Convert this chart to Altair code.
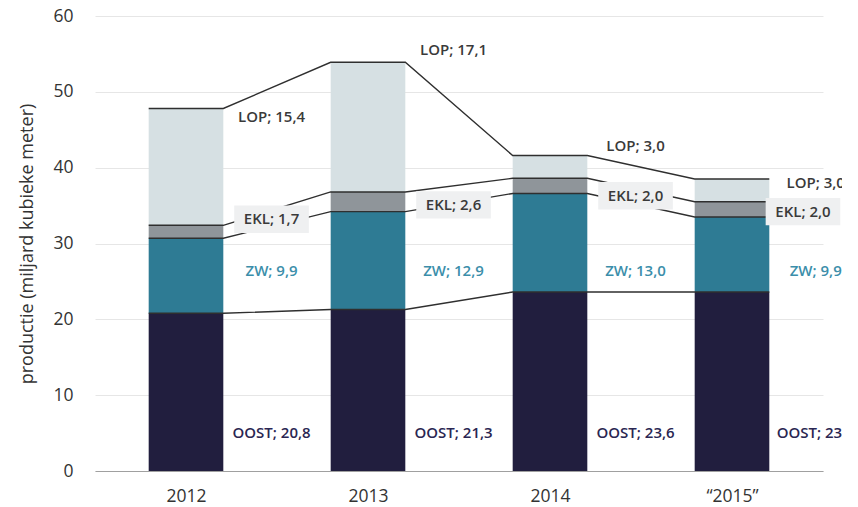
import json
import altair as alt
import pandas as pd

# ---- data ----
years = ["2012", "2013", "2014", "\u201c2015\u201d"]
series = ["OOST", "ZW", "EKL", "LOP"]
oost = [20.8, 21.3, 23.6, 23.6]
zw = [9.9, 12.9, 13.0, 9.9]
ekl = [1.7, 2.6, 2.0, 2.0]
lop = [15.4, 17.1, 3.0, 3.0]
values = {"OOST": oost, "ZW": zw, "EKL": ekl, "LOP": lop}

# label placement (layout, in data units)
label_y = {
    "OOST": [5.0, 5.0, 5.0, 5.0],
    "ZW": [26.4, 26.4, 26.4, 26.4],
    "EKL": [33.2, 35.1, 36.3, 34.2],
    "LOP": [46.7, 55.5, 42.9, 38.0],
}
label_dx = {
    "OOST": [0.47, 0.47, 0.47, 0.46],
    "ZW": [0.47, 0.47, 0.47, 0.46],
    "EKL": [0.47, 0.47, 0.47, 0.39],
    "LOP": [0.47, 0.47, 0.47, 0.46],
}

colors = ["#211e3e", "#2e7b94", "#8f959a", "#d6e0e3"]
text_colors = ["#2a2652", "#3b8eaa", "#3a3a3a", "#3a3a3a"]
HW = 0.205  # half bar width in band units

bars, lines, labels = [], [], []
for i, yr in enumerate(years):
    cum = 0.0
    for j, s in enumerate(series):
        v = values[s][i]
        bars.append({"year": yr, "series": s, "xl": i - HW, "xr": i + HW,
                     "y0": cum, "y1": cum + v})
        cum += v
        lines.append({"series": s, "x": i - HW, "y": cum, "order": 2 * i})
        lines.append({"series": s, "x": i + HW, "y": cum, "order": 2 * i + 1})
        labels.append({"series": s, "x": i + label_dx[s][i], "y": label_y[s][i],
                       "text": f"{s}; " + f"{v:.1f}".replace(".", ","),
                       "bx0": i + label_dx[s][i] - 0.205, "bx1": i + label_dx[s][i] + 0.205,
                       "by0": label_y[s][i] - 1.8, "by1": label_y[s][i] + 1.8})

df_bars = pd.DataFrame(bars)
df_lines = pd.DataFrame(lines)
df_labels = pd.DataFrame(labels)

FONT = "Open Sans"
xscale = alt.Scale(domain=[-0.5, 3.5], nice=False, zero=False)
yscale = alt.Scale(domain=[0, 60], nice=False)
label_expr = json.dumps(years) + "[datum.value]"

xaxis = alt.Axis(values=[0, 1, 2, 3], labelExpr=label_expr, title=None, grid=False,
                 ticks=False, tickSize=0, domain=True, domainColor="#a0a0a0", domainWidth=1.2,
                 labelFont=FONT, labelFontSize=17.5, labelColor="#333333", labelPadding=16)
yaxis = alt.Axis(values=[0, 10, 20, 30, 40, 50, 60], title="productie (miljard kubieke meter)",
                 grid=True, gridColor="#e6e6e6", gridWidth=1, domain=False, ticks=False,
                 tickSize=0, labelFont=FONT, labelFontSize=17.5, labelColor="#333333",
                 labelPadding=22, titleFont=FONT, titleFontSize=18, titleFontWeight="normal",
                 titleColor="#333333", titlePadding=16)

bar_layer = alt.Chart(df_bars).mark_rect().encode(
    x=alt.X("xl:Q", scale=xscale, axis=xaxis),
    x2="xr:Q",
    y=alt.Y("y0:Q", scale=yscale, axis=yaxis),
    y2="y1:Q",
    color=alt.Color("series:N", scale=alt.Scale(domain=series, range=colors), legend=None),
)

line_layer = alt.Chart(df_lines).mark_line(color="#2f2f2f", strokeWidth=1.4).encode(
    x=alt.X("x:Q", scale=xscale),
    y=alt.Y("y:Q", scale=yscale),
    detail="series:N",
    order="order:Q",
)

box_layer = alt.Chart(df_labels[df_labels["series"] == "EKL"]).mark_rect(color="#eff0f1").encode(
    x=alt.X("bx0:Q", scale=xscale), x2="bx1:Q",
    y=alt.Y("by0:Q", scale=yscale), y2="by1:Q",
)

text_layer = alt.Chart(df_labels).mark_text(font=FONT, fontSize=15, fontWeight=600,
                                            align="center", baseline="middle").encode(
    x=alt.X("x:Q", scale=xscale),
    y=alt.Y("y:Q", scale=yscale),
    text="text:N",
    color=alt.Color("series:N", scale=alt.Scale(domain=series, range=text_colors), legend=None),
)

chart = alt.layer(bar_layer, line_layer, box_layer, text_layer).resolve_scale(
    color="independent"
).properties(
    width=728, height=455,
    padding={"left": 87, "top": 8, "right": 19, "bottom": 34},
    autosize=alt.AutoSizeParams(type="none"),
    background="white",
).configure_view(stroke=None)

chart.save("out.html", embed_options={"renderer": "svg", "actions": False})
